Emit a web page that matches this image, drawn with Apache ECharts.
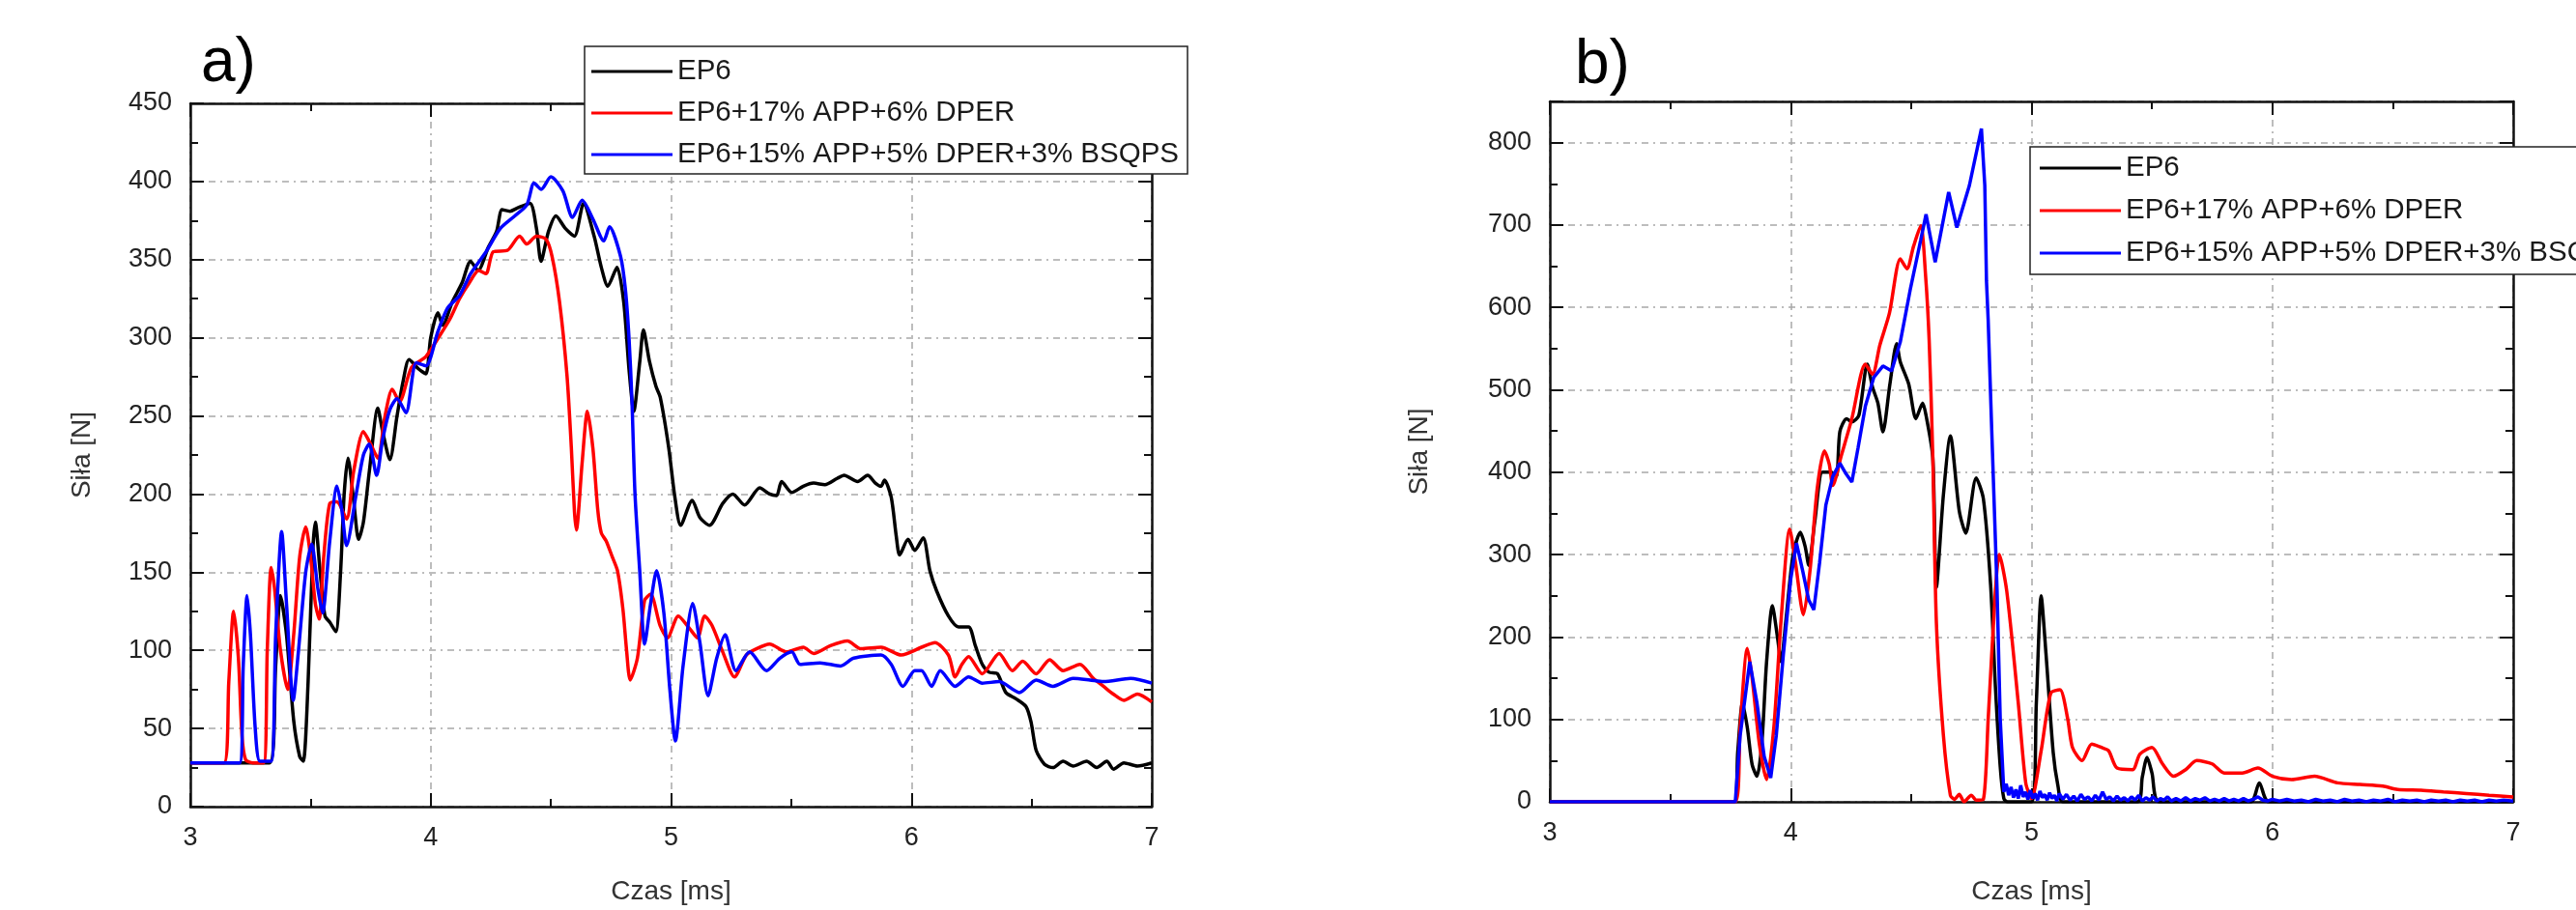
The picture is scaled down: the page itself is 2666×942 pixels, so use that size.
<!DOCTYPE html>
<html>
<head>
<meta charset="utf-8">
<script src="https://cdn.jsdelivr.net/npm/echarts@6/dist/echarts.min.js"></script>
<style>
html,body{margin:0;padding:0;background:#fff;}
#chart{width:2666px;height:942px;}
</style>
</head>
<body>
<div id="chart"></div>
<script>
// ---------- data ----------
const seriesNames = ['EP6', 'EP6+17% APP+6% DPER', 'EP6+15% APP+5% DPER+3% BSQPS'];
const panelLabels = ['a)', 'b)'];
const xAxisTitle = 'Czas [ms]';
const yAxisTitle = 'Siła [N]';
const xTicksA = { min: 3, max: 7, step: 1 };
const yTicksA = { min: 0, max: 450, step: 50 };
const xTicksB = { min: 3, max: 7, step: 1 };
const yTicksB = { min: 0, max: 850, step: 100 };

// Panel a) [time ms, force N]
const aEP6 = [[3.0,28],[3.33,28],[3.355,90],[3.375,135],[3.40,110],[3.43,55],[3.455,32],[3.47,29],[3.49,80],[3.51,165],[3.52,182],[3.54,150],[3.56,122],[3.58,118],[3.605,112],[3.625,150],[3.64,200],[3.656,223],[3.68,195],[3.70,171],[3.72,182],[3.745,215],[3.78,255],[3.80,240],[3.83,222],[3.86,250],[3.885,272],[3.91,286],[3.95,280],[3.98,277],[4.0,300],[4.03,316],[4.05,308],[4.09,323],[4.13,335],[4.166,349],[4.197,343],[4.24,358],[4.274,368],[4.297,382],[4.33,381],[4.36,383],[4.413,386],[4.44,370],[4.459,349],[4.49,368],[4.521,378],[4.56,370],[4.598,365],[4.636,386],[4.68,365],[4.71,345],[4.737,333],[4.775,345],[4.803,323],[4.825,280],[4.845,253],[4.87,285],[4.885,305],[4.91,285],[4.937,269],[4.955,262],[4.99,230],[5.015,199],[5.04,180],[5.088,196],[5.12,185],[5.16,180],[5.215,194],[5.257,200],[5.306,193],[5.369,204],[5.41,200],[5.439,199],[5.46,208],[5.502,201],[5.55,205],[5.593,207],[5.64,206],[5.691,210],[5.72,212],[5.776,208],[5.818,212],[5.85,207],[5.874,205],[5.888,209],[5.916,198],[5.937,173],[5.951,161],[5.986,171],[6.014,164],[6.049,172],[6.077,151],[6.105,138],[6.154,122],[6.196,115],[6.238,115],[6.266,103],[6.295,91],[6.323,86],[6.358,85],[6.393,73],[6.435,69],[6.477,64],[6.498,54],[6.519,36],[6.554,27],[6.589,25],[6.631,29],[6.673,26],[6.729,29],[6.771,25],[6.813,29],[6.841,24],[6.884,28],[6.94,26],[7.0,28]];
const aAPP = [[3.0,28],[3.14,28],[3.16,80],[3.18,125],[3.20,95],[3.215,45],[3.23,30],[3.26,28],[3.305,28],[3.32,100],[3.336,153],[3.35,140],[3.375,100],[3.405,75],[3.43,110],[3.455,160],[3.48,179],[3.50,160],[3.52,130],[3.536,120],[3.555,160],[3.58,194],[3.61,195],[3.65,184],[3.68,215],[3.72,240],[3.75,232],[3.78,223],[3.81,250],[3.84,267],[3.87,259],[3.92,281],[3.98,288],[4.04,302],[4.08,312],[4.12,325],[4.16,335],[4.20,343],[4.23,341],[4.26,355],[4.32,356],[4.37,365],[4.40,360],[4.44,365],[4.48,363],[4.505,352],[4.536,323],[4.567,276],[4.585,230],[4.598,189],[4.606,177],[4.63,220],[4.652,253],[4.675,229],[4.695,190],[4.71,175],[4.73,170],[4.755,160],[4.777,151],[4.80,126],[4.815,100],[4.83,81],[4.86,95],[4.89,132],[4.915,136],[4.954,116],[4.985,108],[5.03,122],[5.077,114],[5.11,108],[5.14,122],[5.17,116],[5.215,99],[5.264,83],[5.313,97],[5.355,101],[5.41,104],[5.48,99],[5.55,102],[5.593,98],[5.663,103],[5.734,106],[5.79,101],[5.874,102],[5.958,97],[6.042,102],[6.098,105],[6.154,97],[6.182,83],[6.21,91],[6.238,96],[6.295,85],[6.365,98],[6.42,87],[6.463,93],[6.519,85],[6.575,94],[6.631,87],[6.701,91],[6.757,82],[6.799,77],[6.84,72],[6.884,68],[6.94,72],[7.0,67]];
const aBSQPS = [[3.0,28],[3.205,28],[3.22,90],[3.236,135],[3.25,110],[3.27,50],[3.29,29],[3.336,29],[3.355,110],[3.38,176],[3.40,130],[3.428,68],[3.45,100],[3.48,150],[3.505,168],[3.53,140],[3.55,124],[3.58,170],[3.61,205],[3.63,190],[3.65,167],[3.69,200],[3.72,225],[3.744,232],[3.775,212],[3.80,235],[3.83,254],[3.86,261],[3.897,252],[3.94,284],[3.98,282],[4.03,304],[4.07,319],[4.12,327],[4.166,341],[4.23,355],[4.29,370],[4.35,378],[4.40,385],[4.43,399],[4.46,395],[4.50,403],[4.55,394],[4.59,377],[4.63,388],[4.675,376],[4.72,362],[4.744,371],[4.79,352],[4.81,331],[4.825,300],[4.837,261],[4.85,200],[4.87,150],[4.89,104],[4.915,130],[4.94,151],[4.97,124],[4.995,75],[5.018,42],[5.05,90],[5.09,130],[5.12,105],[5.154,71],[5.19,95],[5.225,110],[5.27,87],[5.327,99],[5.397,87],[5.453,95],[5.502,99],[5.537,91],[5.62,92],[5.705,90],[5.76,95],[5.874,97],[5.916,91],[5.965,77],[6.014,87],[6.042,87],[6.084,77],[6.12,87],[6.182,77],[6.238,83],[6.295,79],[6.365,80],[6.449,73],[6.519,81],[6.589,77],[6.673,82],[6.743,81],[6.799,80],[6.912,82],[7.0,79]];

// Panel b) [time ms, force N]
const bEP6 = [[3.0,0],[3.765,0],[3.78,60],[3.80,120],[3.82,90],[3.84,45],[3.86,31],[3.88,70],[3.90,170],[3.924,238],[3.945,200],[3.96,170],[3.98,220],[4.01,300],[4.04,327],[4.06,310],[4.075,287],[4.10,340],[4.132,400],[4.168,400],[4.19,395],[4.204,449],[4.232,465],[4.254,461],[4.283,469],[4.318,531],[4.34,503],[4.362,484],[4.383,449],[4.412,507],[4.44,556],[4.455,534],[4.49,507],[4.52,465],[4.548,484],[4.562,469],[4.59,418],[4.605,260],[4.634,372],[4.663,444],[4.70,353],[4.727,326],[4.77,393],[4.80,368],[4.83,264],[4.85,140],[4.87,43],[4.885,4],[4.9,0],[5.0,0],[5.02,120],[5.04,250],[5.06,180],[5.09,60],[5.11,19],[5.13,0],[5.44,0],[5.46,30],[5.48,54],[5.50,35],[5.53,0],[5.91,0],[5.946,23],[5.985,0],[7.0,0]];
const bAPP = [[3.0,0],[3.77,0],[3.79,90],[3.82,186],[3.84,150],[3.87,70],[3.90,27],[3.93,90],[3.96,220],[3.996,331],[4.02,290],[4.053,227],[4.08,280],[4.11,380],[4.14,426],[4.16,410],[4.175,384],[4.21,420],[4.254,465],[4.31,531],[4.34,519],[4.37,554],[4.41,593],[4.455,659],[4.483,647],[4.51,674],[4.54,699],[4.56,639],[4.575,560],[4.59,420],[4.605,217],[4.634,81],[4.663,8],[4.68,3],[4.70,9],[4.72,0],[4.75,8],[4.77,2],[4.80,3],[4.82,100],[4.85,256],[4.866,300],[4.897,256],[4.945,120],[4.976,23],[5.0,4],[5.04,62],[5.08,132],[5.118,136],[5.15,101],[5.17,66],[5.21,50],[5.25,70],[5.29,66],[5.32,62],[5.355,41],[5.42,39],[5.45,58],[5.50,66],[5.544,46],[5.59,31],[5.64,39],[5.686,50],[5.75,46],[5.80,35],[5.875,35],[5.94,41],[6.0,31],[6.08,27],[6.175,31],[6.27,23],[6.364,21],[6.459,19],[6.52,15],[6.617,14],[6.71,12],[6.806,10],[6.9,8],[7.0,6]];
const bBSQPS = [[3.0,0],[3.77,0],[3.79,80],[3.83,170],[3.86,120],[3.89,55],[3.917,29],[3.94,80],[3.97,180],[4.0,270],[4.024,314],[4.05,280],[4.075,245],[4.096,233],[4.12,290],[4.146,360],[4.175,395],[4.204,411],[4.23,398],[4.254,388],[4.28,430],[4.31,480],[4.345,515],[4.383,529],[4.419,523],[4.455,558],[4.498,624],[4.54,682],[4.562,713],[4.6,655],[4.656,740],[4.69,697],[4.742,748],[4.792,817],[4.806,748],[4.813,632],[4.82,585],[4.835,449],[4.857,256],[4.87,101],[4.885,12],[4.895,22],[4.905,8],[4.915,18],[4.925,5],[4.935,15],[4.945,4],[4.955,20],[4.965,6],[4.975,12],[4.985,3],[4.995,14],[5.005,4],[5.015,10],[5.025,2],[5.035,13],[5.045,5],[5.055,9],[5.065,2],[5.075,11],[5.085,4],[5.095,8],[5.105,1],[5.115,10],[5.13,3],[5.145,9],[5.16,2],[5.175,7],[5.19,1],[5.205,9],[5.22,3],[5.235,6],[5.25,1],[5.265,8],[5.28,2],[5.295,12],[5.31,3],[5.325,6],[5.34,1],[5.355,7],[5.37,2],[5.385,5],[5.40,1],[5.415,6],[5.43,2],[5.445,8],[5.46,1],[5.475,5],[5.49,2],[5.505,6],[5.52,1],[5.535,4],[5.55,2],[5.565,6],[5.58,1],[5.60,4],[5.62,1],[5.64,5],[5.66,1],[5.68,4],[5.70,2],[5.72,5],[5.74,1],[5.76,3],[5.78,1],[5.80,4],[5.82,1],[5.84,3],[5.86,1],[5.88,4],[5.90,1],[5.92,3],[5.94,6],[5.96,2],[5.98,1],[6.0,3],[6.03,1],[6.06,3],[6.09,1],[6.12,2],[6.15,0],[6.18,3],[6.21,1],[6.24,2],[6.27,0],[6.30,3],[6.33,1],[6.36,2],[6.39,0],[6.42,2],[6.45,1],[6.48,3],[6.51,0],[6.54,2],[6.57,1],[6.60,2],[6.63,0],[6.66,2],[6.69,1],[6.72,2],[6.75,0],[6.78,2],[6.81,1],[6.84,2],[6.87,0],[6.90,2],[6.93,1],[6.96,2],[7.0,1]];

const colors = ['#000000', '#ff0000', '#0000ff'];

// ---------- chart ----------
const FONT = 'Liberation Sans, Arial, sans-serif';
const chart = echarts.init(document.getElementById('chart'), null, {renderer: 'canvas'});

const gridLine = {show: true, lineStyle: {color: '#a8a8a8', width: 1.5, type: [7, 5, 2, 5]}};
const tickStyle = {show: true, inside: true, length: 14, lineStyle: {color: '#111', width: 2}};
const minorStyle = {show: true, splitNumber: 2, length: 8, lineStyle: {color: '#111', width: 2}};
const lineStyle = {show: true, onZero: false, lineStyle: {color: '#111', width: 2.5}};
const labelStyle = {fontSize: 27, color: '#222', fontFamily: FONT, margin: 19};
const nameStyle = {fontSize: 28, color: '#333', fontFamily: FONT};

function xAxes(grid, t, gap) {
  return [
    {type: 'value', gridIndex: grid, position: 'bottom', min: t.min, max: t.max, interval: t.step,
     axisLine: lineStyle, axisTick: tickStyle, minorTick: minorStyle, splitLine: gridLine,
     axisLabel: labelStyle, name: xAxisTitle, nameLocation: 'middle', nameGap: gap, nameTextStyle: nameStyle},
    {type: 'value', gridIndex: grid, position: 'top', min: t.min, max: t.max, interval: t.step,
     axisLine: lineStyle, axisTick: tickStyle, minorTick: minorStyle, splitLine: {show: false},
     axisLabel: {show: false}}
  ];
}
function yAxes(grid, t, gap, hideMax) {
  return [
    {type: 'value', gridIndex: grid, position: 'left', min: t.min, max: t.max, interval: t.step,
     axisLine: lineStyle, axisTick: tickStyle, minorTick: minorStyle, splitLine: gridLine,
     axisLabel: Object.assign({}, labelStyle, {showMaxLabel: !hideMax}),
     name: yAxisTitle, nameLocation: 'middle', nameGap: gap, nameTextStyle: nameStyle},
    {type: 'value', gridIndex: grid, position: 'right', min: t.min, max: t.max, interval: t.step,
     axisLine: lineStyle, axisTick: tickStyle, minorTick: minorStyle, splitLine: {show: false},
     axisLabel: {show: false}}
  ];
}

function mkSeries(name, data, color, xi, yi, smooth) {
  return {type: 'line', name: name, data: data, xAxisIndex: xi, yAxisIndex: yi,
    showSymbol: false, symbol: 'none', smooth: smooth, clip: true,
    lineStyle: {color: color, width: 3.5}, itemStyle: {color: color}, z: 2};
}

const legendCommon = {orient: 'vertical', icon: 'rect', itemWidth: 84, itemHeight: 3,
  selectedMode: false, padding: 0, z: 10,
  textStyle: {fontSize: 29.5, lineHeight: 30, color: '#1a1a1a', fontFamily: FONT},
  data: seriesNames};

const option = {
  backgroundColor: '#ffffff',
  animation: false,
  grid: [
    {left: 197, top: 107, width: 995, height: 730},
    {left: 1604, top: 105, width: 997, height: 732}
  ],
  xAxis: xAxes(0, xTicksA, 74).concat(xAxes(1, xTicksB, 79)),
  yAxis: yAxes(0, yTicksA, 98, false).concat(yAxes(1, yTicksB, 121, true)),
  legend: [
    Object.assign({}, legendCommon, {left: 612, top: 59, itemGap: 13}),
    Object.assign({}, legendCommon, {left: 2111, top: 159, itemGap: 14})
  ],
  graphic: [
    {type: 'rect', z: 3, shape: {x: 605, y: 48, width: 624, height: 132},
     style: {fill: '#fff', stroke: '#222', lineWidth: 1.5}},
    {type: 'rect', z: 3, shape: {x: 2101, y: 152, width: 624, height: 132},
     style: {fill: '#fff', stroke: '#222', lineWidth: 1.5}},
    {type: 'text', z: 10, x: 208, y: 66,
     style: {text: panelLabels[0], font: '64px ' + FONT, fill: '#000', textVerticalAlign: 'middle'}},
    {type: 'text', z: 10, x: 1630, y: 68,
     style: {text: panelLabels[1], font: '64px ' + FONT, fill: '#000', textVerticalAlign: 'middle'}}
  ],
  series: [
    mkSeries(seriesNames[0], aEP6, colors[0], 0, 0, 0.25),
    mkSeries(seriesNames[1], aAPP, colors[1], 0, 0, 0.25),
    mkSeries(seriesNames[2], aBSQPS, colors[2], 0, 0, 0.25),
    mkSeries(seriesNames[0], bEP6, colors[0], 2, 2, 0.25),
    mkSeries(seriesNames[1], bAPP, colors[1], 2, 2, 0.25),
    mkSeries(seriesNames[2], bBSQPS, colors[2], 2, 2, false)
  ]
};
chart.setOption(option);
</script>
</body>
</html>
